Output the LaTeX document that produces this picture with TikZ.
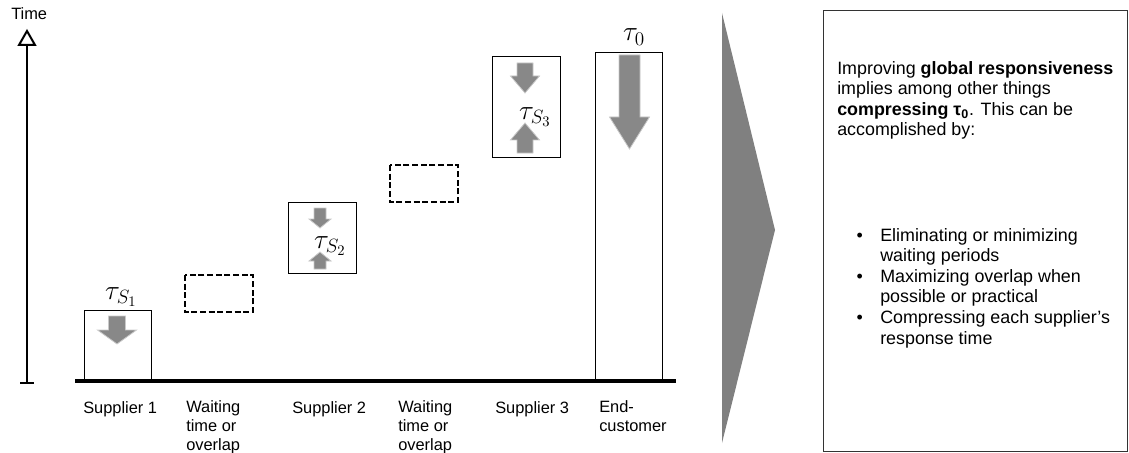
\documentclass[tikz,border=0pt]{standalone}
\usepackage{fontspec}
\setmainfont{Liberation Sans}
\definecolor{arrgray}{RGB}{136,136,136}
\definecolor{chevgray}{RGB}{128,128,128}
\newcommand\lblfont{\fontsize{12.3}{13.9}\selectfont}
\newcommand\notefont{\fontsize{13.4}{15.4}\selectfont}
\newcommand\taufont{\fontsize{21}{23}\selectfont}

\begin{document}
\begin{tikzpicture}[x=0.75pt,y=0.75pt,yscale=-1,xscale=1,
  boxline/.style={draw=black, line width=0.75},
  waitbox/.style={draw=black, line width=1.4, dash pattern=on 4.5pt off 2pt},
  blockarr/.style={fill=arrgray, draw=arrgray!45, line width=0.6},
  lbl/.style={anchor=base west, inner sep=0pt, align=left, font=\lblfont},
  note/.style={anchor=base west, inner sep=0pt, align=left, font=\notefont},
  tau/.style={inner sep=0pt, font=\taufont}]
\useasboundingbox (0,0) rectangle (1129,453);

%Time axis
\draw [line width=2.2]    (27,45) -- (27,383) ;
\draw [line width=2.2]    (20,383) -- (34,383) ;
\draw [line width=1.5, fill=white]    (19,45) -- (27,31) -- (35,45) -- cycle ;

%Shape: Rectangle (supplier bars)
\draw [boxline] (84,310) rectangle (151,381) ;
\draw [boxline] (288,202) rectangle (356,273) ;
\draw [boxline] (492,57) rectangle (560,157) ;
\draw [boxline] (595,53) rectangle (662,381) ;
%Shape: Rectangle (waiting / overlap)
\draw [waitbox] (185,275) rectangle (253,312) ;
\draw [waitbox] (390,165) rectangle (458,202) ;

%Straight Lines
\draw [line width=3]    (75,381) -- (676,381) ;

%Shape: Down / Up Arrows
\draw [blockarr] (108.5,316) -- (125.5,316) -- (125.5,330) -- (136.5,330) -- (117,344) -- (97.5,330) -- (108.5,330) -- cycle ;
\draw [blockarr] (314,208) -- (326,208) -- (326,219) -- (331,219) -- (320,228) -- (309,219) -- (314,219) -- cycle ;
\draw [blockarr] (314,269) -- (326,269) -- (326,261) -- (331,261) -- (320,252) -- (309,261) -- (314,261) -- cycle ;
\draw [blockarr] (517,63) -- (533,63) -- (533,76) -- (539.5,76) -- (525,93) -- (510.5,76) -- (517,76) -- cycle ;
\draw [blockarr] (517,153) -- (533,153) -- (533,140) -- (539.5,140) -- (525,123) -- (510.5,140) -- (517,140) -- cycle ;
\draw [blockarr] (619,55) -- (640,55) -- (640,117) -- (649.5,117) -- (629.5,149) -- (609.5,117) -- (619,117) -- cycle ;

%Shape: Triangle
\fill [chevgray] (722,13) -- (775,230) -- (722,443) -- cycle ;

%Shape: Rectangle (notes)
\draw [boxline, draw=black!80] (823,11) rectangle (1127,451) ;

% Text Node
\node [lbl] (time) at (11,20) {Time};
% Text Node
\node [tau] (tauA) at (121,297) {$\tau_{S_1}$};
\node [tau] (tauB) at (330,246) {$\tau_{S_2}$};
\node [tau] (tauC) at (535,117) {$\tau_{S_3}$};
\node [tau] (tauZ) at (634,37) {$\tau_0$};
% Text Node (base = last line)
\node [lbl] (supA) at (83,413) {Supplier 1};
\node [lbl] (waitA) at (186,450) {Waiting\\time or\\overlap};
\node [lbl] (supB) at (292,413) {Supplier 2};
\node [lbl] (waitB) at (398,450) {Waiting\\time or\\overlap};
\node [lbl] (supC) at (495,413) {Supplier 3};
\node [lbl] (endcust) at (599,431.5) {End-\\customer};
% Text Node
\node [note] (intro) at (837,136) {Improving \textbf{global responsiveness}\\implies among other things\\\textbf{compressing τ\textsubscript{0}}. This can be\\accomplished by:};
% Text Node
\node [note] (ways) at (880,344) {\llap{\textbullet\hspace{13pt}}Eliminating or minimizing\\waiting periods\\\llap{\textbullet\hspace{13pt}}Maximizing overlap when\\possible or practical\\\llap{\textbullet\hspace{13pt}}Compressing each supplier’s\\response time};

\end{tikzpicture}
\end{document}
